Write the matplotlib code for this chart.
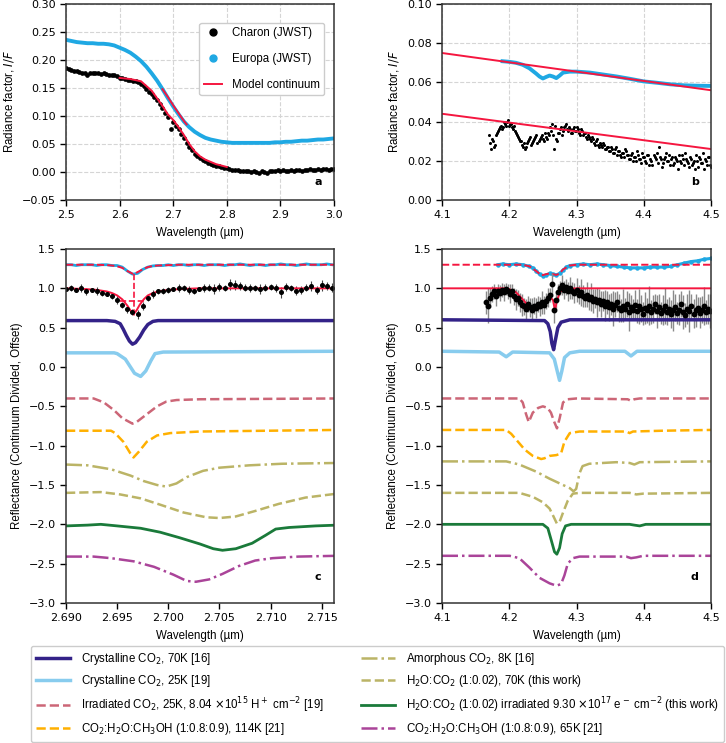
import numpy as np
import matplotlib
matplotlib.use('Agg')
import matplotlib.pyplot as plt
from matplotlib.lines import Line2D

plt.rcParams['font.family'] = 'DejaVu Sans'
plt.rcParams['font.size'] = 8
LAB = 'Liberation Sans'

# colours
c_navy = '#332288'
c_lblue = '#88CCEE'
c_rose = '#CC6677'
c_orange = '#FFB000'
c_olive = '#BBB466'
c_green = '#1A7A3A'
c_purple = '#AA4499'
c_red = '#F5163F'
c_europa = '#1FA8E3'

# ---------------- panel a : 2.5 - 3.0 um ----------------
charon_a = [0.186, 0.184, 0.183, 0.181, 0.180, 0.178, 0.176, 0.177, 0.174, 0.176,
            0.177, 0.176, 0.176, 0.175, 0.176, 0.175, 0.174, 0.174, 0.173, 0.171,
            0.168, 0.167, 0.166, 0.165, 0.164, 0.163, 0.162, 0.160, 0.157, 0.153,
            0.148, 0.143, 0.139, 0.134, 0.128, 0.121, 0.114, 0.106, 0.098, 0.076,
            0.089, 0.083, 0.076, 0.068, 0.060, 0.052, 0.045, 0.039, 0.033, 0.029,
            0.025, 0.022, 0.019, 0.016, 0.014, 0.012, 0.011, 0.010, 0.009, 0.008,
            0.007, 0.006, 0.004, 0.004, 0.003, 0.002, 0.002, 0.001, 0.002, 0.000,
            0.001, 0.000, -0.002, 0.001, 0.000, -0.001, 0.001, 0.002, 0.001, 0.003,
            0.002, 0.003, 0.001, 0.002, 0.003, 0.002, 0.004, 0.003, 0.002, 0.004,
            0.003, 0.005, 0.004, 0.003, 0.005, 0.004, 0.006, 0.005, 0.004, 0.006,
            0.005]
wl_charon_a = np.linspace(2.5, 3.0, len(charon_a))

europa_a = [0.236, 0.234, 0.232, 0.231, 0.230, 0.230, 0.229, 0.229, 0.228, 0.226,
            0.222, 0.218, 0.213, 0.206, 0.198, 0.188, 0.176, 0.163, 0.148, 0.132,
            0.117, 0.103, 0.090, 0.080, 0.072, 0.066, 0.061, 0.058, 0.056, 0.054,
            0.053, 0.052, 0.052, 0.052, 0.052, 0.052, 0.052, 0.052, 0.052, 0.053,
            0.053, 0.054, 0.054, 0.055, 0.056, 0.056, 0.057, 0.058, 0.058, 0.059,
            0.060]
wl_europa_a = np.linspace(2.5, 3.0, len(europa_a))

wl_model_a = [2.60, 2.62, 2.64, 2.66, 2.68, 2.69, 2.70, 2.71, 2.72, 2.73, 2.74, 2.75, 2.76, 2.78, 2.80]
model_a = [0.168, 0.166, 0.162, 0.145, 0.118, 0.103, 0.093, 0.080, 0.066, 0.050, 0.037, 0.028, 0.022, 0.014, 0.009]
wl_model_ae = [2.68, 2.69, 2.70, 2.71, 2.72, 2.725]
model_ae = [0.148, 0.134, 0.119, 0.105, 0.091, 0.085]

# ---------------- panel b : 4.1 - 4.5 um ----------------
charon_b = [0.033, 0.026, 0.030, 0.028, 0.034, 0.036, 0.038, 0.037, 0.039, 0.040,
            0.038, 0.039, 0.036, 0.035, 0.033, 0.031, 0.030, 0.027, 0.026, 0.029,
            0.031, 0.028, 0.030, 0.032, 0.029, 0.031, 0.033, 0.030, 0.032, 0.034,
            0.037, 0.039, 0.026, 0.031, 0.034, 0.036, 0.033, 0.037, 0.039, 0.035,
            0.036, 0.034, 0.037, 0.035, 0.036, 0.033, 0.035, 0.034, 0.032, 0.033,
            0.031, 0.032, 0.029, 0.030, 0.028, 0.029, 0.027, 0.028, 0.026, 0.027,
            0.025, 0.026, 0.024, 0.027, 0.025, 0.023, 0.024, 0.022, 0.025, 0.023,
            0.021, 0.024, 0.022, 0.020, 0.023, 0.021, 0.024, 0.022, 0.019, 0.023,
            0.021, 0.018, 0.022, 0.024, 0.027, 0.021, 0.019, 0.022, 0.020, 0.023,
            0.021, 0.018, 0.022, 0.020, 0.023, 0.019, 0.021, 0.024, 0.020, 0.017,
            0.021, 0.019, 0.016, 0.020, 0.022, 0.019, 0.024, 0.021, 0.018, 0.022,
            0.017]
wl_charon_b = np.linspace(4.17, 4.5, len(charon_b))
charon_b2 = [0.029, 0.031, 0.027, 0.033, 0.035, 0.037, 0.036, 0.040, 0.038, 0.041,
             0.039, 0.037, 0.038, 0.034, 0.032, 0.030, 0.028, 0.029, 0.027, 0.030,
             0.032, 0.029, 0.031, 0.033, 0.030, 0.032, 0.031, 0.034, 0.031, 0.033,
             0.035, 0.033, 0.038, 0.030, 0.034, 0.037, 0.035, 0.038, 0.036, 0.037,
             0.034, 0.036, 0.035, 0.037, 0.034, 0.036, 0.033, 0.034, 0.031, 0.032,
             0.030, 0.031, 0.028, 0.031, 0.027, 0.028, 0.029, 0.026, 0.027, 0.025,
             0.027, 0.024, 0.026, 0.023, 0.025, 0.022, 0.024, 0.026, 0.023, 0.021,
             0.023, 0.020, 0.022, 0.025, 0.021, 0.019, 0.022, 0.020, 0.023, 0.018,
             0.020, 0.023, 0.021, 0.019, 0.022, 0.017, 0.021, 0.024, 0.020, 0.018,
             0.022, 0.019, 0.021, 0.016, 0.020, 0.023, 0.018, 0.021, 0.019, 0.022,
             0.018, 0.020, 0.023, 0.017, 0.021, 0.019, 0.016, 0.020, 0.022, 0.018]
wl_charon_b2 = np.linspace(4.1715, 4.4985, len(charon_b2))

wl_europa_b = [4.19, 4.20, 4.21, 4.22, 4.23, 4.24, 4.245, 4.25, 4.255, 4.26, 4.265, 4.27,
               4.275, 4.28, 4.29, 4.30, 4.32, 4.34, 4.36, 4.38, 4.40, 4.42, 4.44, 4.46, 4.48, 4.50]
europa_b = [0.0708, 0.0705, 0.0700, 0.0690, 0.0672, 0.0645, 0.0630, 0.0620, 0.0628, 0.0635, 0.0630, 0.0622,
            0.0635, 0.0650, 0.0655, 0.0655, 0.0650, 0.0640, 0.0630, 0.0618, 0.0605, 0.0598, 0.0590, 0.0585, 0.0583, 0.0582]

wl_cont_b = [4.1, 4.5]
cont_b_europa = [0.075, 0.056]
cont_b_charon = [0.044, 0.026]

# ---------------- panel c : 2.69 - 2.716 um ----------------
charon_c = [0.99, 1.00, 0.98, 1.00, 0.96, 0.98, 0.97, 0.94, 0.93, 0.90,
            0.85, 0.79, 0.74, 0.70, 0.67, 0.78, 0.88, 0.93, 0.96, 0.97,
            0.98, 0.99, 1.00, 1.00, 0.98, 0.97, 0.99, 1.00, 1.01, 0.99,
            1.02, 1.00, 1.05, 1.04, 1.03, 1.01, 1.00, 1.00, 0.99, 1.01,
            1.02, 1.00, 0.95, 1.02, 1.00, 0.97, 0.98, 1.01, 1.03, 0.98,
            1.04, 1.03, 1.01]
charon_c_err = [0.03, 0.04, 0.03, 0.05, 0.04, 0.03, 0.05, 0.04, 0.03, 0.04,
                0.05, 0.04, 0.05, 0.04, 0.06, 0.05, 0.04, 0.05, 0.03, 0.04,
                0.04, 0.03, 0.05, 0.04, 0.05, 0.04, 0.03, 0.05, 0.04, 0.06,
                0.05, 0.04, 0.07, 0.06, 0.05, 0.04, 0.05, 0.04, 0.06, 0.05,
                0.04, 0.05, 0.07, 0.05, 0.04, 0.06, 0.05, 0.04, 0.06, 0.05,
                0.07, 0.05, 0.06]
europa_c = [1.30, 1.30, 1.29, 1.30, 1.30, 1.30, 1.29, 1.30, 1.30, 1.29,
            1.29, 1.27, 1.22, 1.18, 1.19, 1.24, 1.27, 1.285, 1.29, 1.29,
            1.30, 1.29, 1.30, 1.30, 1.29, 1.30, 1.30, 1.29, 1.30, 1.30,
            1.30, 1.29, 1.30, 1.30, 1.31, 1.30, 1.29, 1.30, 1.30, 1.29,
            1.30, 1.30, 1.31, 1.30, 1.30, 1.29, 1.30, 1.31, 1.30, 1.30,
            1.30, 1.31, 1.30]
wl_obs_c = np.linspace(2.690, 2.716, len(charon_c))

wl_model_c = [2.690, 2.692, 2.693, 2.694, 2.6945, 2.695, 2.6955, 2.696, 2.6963, 2.6966,
              2.6969, 2.6972, 2.6976, 2.698, 2.6985, 2.699, 2.700, 2.701, 2.703, 2.706, 2.7165]
model_c_charon = [1.0, 0.99, 0.98, 0.96, 0.94, 0.91, 0.86, 0.78, 0.72, 0.67,
                  0.72, 0.79, 0.86, 0.91, 0.94, 0.96, 0.98, 0.99, 1.0, 1.0, 1.0]
model_c_europa = [1.30, 1.30, 1.30, 1.295, 1.29, 1.28, 1.26, 1.22, 1.20, 1.18,
                  1.20, 1.22, 1.25, 1.27, 1.285, 1.29, 1.295, 1.30, 1.30, 1.30, 1.30]
band_c_x = [2.6966, 2.6966]
band_c_y = [1.18, 0.62]
fwhm_c_x = [2.6953, 2.6976]
fwhm_c_y = [0.84, 0.84]

c_wl_navy = [2.690, 2.692, 2.694, 2.6948, 2.6953, 2.6956, 2.6959, 2.6962, 2.6965, 2.6968,
             2.6972, 2.6976, 2.698, 2.6985, 2.699, 2.7165]
c_navy_y = [0.59, 0.59, 0.59, 0.58, 0.55, 0.48, 0.40, 0.33, 0.29, 0.31,
            0.38, 0.47, 0.54, 0.58, 0.59, 0.59]
c_wl_lblue = [2.690, 2.694, 2.6947, 2.6950, 2.6958, 2.6963, 2.6967, 2.6970, 2.6973, 2.6978,
              2.6983, 2.6987, 2.6995, 2.7165]
c_lblue_y = [0.18, 0.18, 0.18, 0.17, 0.10, 0.00, -0.08, -0.10, -0.12, -0.05,
             0.08, 0.17, 0.19, 0.20]
c_wl_rose = [2.690, 2.6927, 2.6937, 2.6947, 2.6955, 2.6965, 2.6969, 2.6979, 2.6989, 2.6998,
             2.7008, 2.7031, 2.7165]
c_rose_y = [-0.40, -0.40, -0.45, -0.55, -0.65, -0.72, -0.70, -0.60, -0.50, -0.44,
            -0.42, -0.41, -0.40]
c_wl_orange = [2.690, 2.6944, 2.6948, 2.6956, 2.6963, 2.6966, 2.6971, 2.6979, 2.6989, 2.7002,
               2.7031, 2.7165]
c_orange_y = [-0.81, -0.81, -0.84, -0.95, -1.10, -1.15, -1.08, -0.95, -0.87, -0.84,
              -0.82, -0.80]
c_wl_amorph = [2.690, 2.6921, 2.6944, 2.6963, 2.6976, 2.6989, 2.6998, 2.7008, 2.7018, 2.7034,
               2.7050, 2.7079, 2.7111, 2.7165]
c_amorph_y = [-1.24, -1.25, -1.30, -1.38, -1.45, -1.50, -1.52, -1.48, -1.40, -1.32,
              -1.28, -1.25, -1.23, -1.22]
c_wl_mix = [2.690, 2.6934, 2.6953, 2.6973, 2.6992, 2.7015, 2.7037, 2.7050, 2.7066, 2.7085,
            2.7108, 2.7134, 2.7165]
c_mix_y = [-1.60, -1.59, -1.62, -1.67, -1.75, -1.85, -1.91, -1.92, -1.90, -1.83,
           -1.74, -1.66, -1.61]
c_wl_green = [2.690, 2.6921, 2.6934, 2.6950, 2.6973, 2.6992, 2.7011, 2.7031, 2.7044, 2.7053,
              2.7066, 2.7082, 2.7095, 2.7105, 2.7118, 2.7144, 2.7165]
c_green_y = [-2.02, -2.01, -2.00, -2.02, -2.05, -2.10, -2.17, -2.25, -2.31, -2.33,
             -2.31, -2.24, -2.14, -2.06, -2.04, -2.02, -2.01]
c_wl_purple = [2.690, 2.6927, 2.6944, 2.6966, 2.6986, 2.7005, 2.7018, 2.7027, 2.7040, 2.7053,
               2.7069, 2.7085, 2.7102, 2.7127, 2.7165]
c_purple_y = [-2.41, -2.41, -2.43, -2.47, -2.54, -2.64, -2.72, -2.73, -2.70, -2.63,
              -2.53, -2.46, -2.43, -2.41, -2.40]

# ---------------- panel d : 4.1 - 4.5 um ----------------
charon_d = [0.82, 0.78, 0.88, 0.93, 0.96, 0.90, 0.97, 0.94, 0.98, 0.95,
            0.99, 0.96, 0.93, 0.97, 0.90, 0.86, 0.88, 0.82, 0.79, 0.77,
            0.74, 0.80, 0.76, 0.73, 0.78, 0.75, 0.80, 0.77, 0.82, 0.79,
            0.84, 0.88, 0.92, 1.05, 0.72, 0.85, 0.95, 1.00, 1.04, 0.98,
            1.02, 0.96, 1.00, 0.97, 0.94, 0.98, 0.92, 0.95, 0.90, 0.88,
            0.92, 0.86, 0.89, 0.84, 0.87, 0.82, 0.85, 0.80, 0.84, 0.78,
            0.82, 0.76, 0.80, 0.74, 0.79, 0.83, 0.75, 0.72, 0.78, 0.74,
            0.80, 0.70, 0.76, 0.73, 0.79, 0.71, 0.77, 0.74, 0.68, 0.75,
            0.72, 0.78, 0.70, 0.74, 0.80, 0.71, 0.76, 0.69, 0.73, 0.78,
            0.70, 0.74, 0.67, 0.72, 0.76, 0.69, 0.73, 0.80, 0.70, 0.66,
            0.74, 0.71, 0.77, 0.68, 0.72, 0.75, 0.69, 0.73, 0.78, 0.70,
            0.74, 0.71]
charon_d_err = [0.15, 0.22, 0.12, 0.10, 0.09, 0.12, 0.08, 0.10, 0.09, 0.11,
                0.08, 0.10, 0.12, 0.09, 0.11, 0.13, 0.10, 0.12, 0.14, 0.11,
                0.13, 0.10, 0.12, 0.15, 0.11, 0.13, 0.10, 0.12, 0.14, 0.11,
                0.10, 0.12, 0.09, 0.15, 0.16, 0.12, 0.10, 0.09, 0.13, 0.11,
                0.10, 0.12, 0.14, 0.11, 0.13, 0.15, 0.12, 0.17, 0.14, 0.12,
                0.16, 0.13, 0.18, 0.15, 0.12, 0.19, 0.14, 0.16, 0.13, 0.20,
                0.15, 0.17, 0.14, 0.22, 0.16, 0.13, 0.18, 0.15, 0.21, 0.14,
                0.17, 0.24, 0.16, 0.13, 0.19, 0.15, 0.22, 0.17, 0.14, 0.20,
                0.16, 0.25, 0.15, 0.18, 0.13, 0.21, 0.17, 0.14, 0.19, 0.23,
                0.16, 0.15, 0.18, 0.26, 0.17, 0.14, 0.20, 0.16, 0.22, 0.15,
                0.19, 0.27, 0.16, 0.18, 0.21, 0.14, 0.20, 0.17, 0.24, 0.15,
                0.19, 0.22]
wl_charon_d = np.linspace(4.165, 4.498, len(charon_d))

wl_europa_d = [4.183, 4.19, 4.20, 4.21, 4.22, 4.23, 4.235, 4.24, 4.245, 4.25, 4.255, 4.26, 4.265,
               4.27, 4.275, 4.28, 4.285, 4.29, 4.30, 4.31, 4.32, 4.33, 4.34, 4.35, 4.36, 4.37,
               4.38, 4.39, 4.40, 4.41, 4.42, 4.43, 4.44, 4.45, 4.46, 4.47, 4.48, 4.49, 4.50]
europa_d = [1.30, 1.31, 1.30, 1.31, 1.30, 1.28, 1.26, 1.22, 1.18, 1.16, 1.17, 1.19, 1.18,
            1.17, 1.19, 1.23, 1.27, 1.29, 1.30, 1.31, 1.30, 1.31, 1.30, 1.29, 1.28, 1.27,
            1.26, 1.26, 1.26, 1.27, 1.27, 1.27, 1.28, 1.30, 1.32, 1.34, 1.35, 1.37, 1.38]

wl_model_de = [4.10, 4.22, 4.23, 4.24, 4.248, 4.255, 4.26, 4.265, 4.27, 4.275, 4.28, 4.29, 4.30, 4.50]
model_de = [1.30, 1.30, 1.28, 1.22, 1.165, 1.18, 1.19, 1.18, 1.17, 1.19, 1.24, 1.29, 1.30, 1.30]
wl_model_dc = [4.10, 4.195, 4.20, 4.21, 4.22, 4.23, 4.237, 4.245, 4.255, 4.262, 4.265, 4.268,
               4.271, 4.276, 4.285, 4.30, 4.50]
model_dc = [1.0, 1.0, 0.99, 0.95, 0.86, 0.76, 0.72, 0.75, 0.83, 0.88, 0.85, 0.72,
            0.85, 0.96, 0.99, 1.0, 1.0]

d_wl_navy = [4.10, 4.2525, 4.2574, 4.261, 4.2634, 4.266, 4.2688, 4.2723, 4.2772, 4.29, 4.50]
d_navy_y = [0.60, 0.59, 0.55, 0.45, 0.30, 0.22, 0.35, 0.50, 0.57, 0.60, 0.60]
d_wl_lblue = [4.10, 4.185, 4.1955, 4.205, 4.26, 4.267, 4.2713, 4.2748, 4.2782, 4.2822,
              4.29, 4.3045, 4.372, 4.381, 4.39, 4.50]
d_lblue_y = [0.20, 0.19, 0.13, 0.19, 0.18, 0.10, -0.05, -0.17, -0.05, 0.12,
             0.18, 0.20, 0.20, 0.14, 0.20, 0.20]
d_wl_rose = [4.10, 4.215, 4.22, 4.225, 4.229, 4.235, 4.243, 4.25, 4.257, 4.262, 4.267,
             4.271, 4.275, 4.28, 4.287, 4.30, 4.376, 4.381, 4.386, 4.394, 4.50]
d_rose_y = [-0.40, -0.40, -0.45, -0.60, -0.70, -0.58, -0.52, -0.50, -0.52, -0.58, -0.70,
            -0.78, -0.65, -0.45, -0.41, -0.40, -0.41, -0.43, -0.41, -0.40, -0.40]
d_wl_orange = [4.10, 4.1955, 4.203, 4.213, 4.223, 4.235, 4.2475, 4.2525, 4.26, 4.27, 4.277,
               4.282, 4.29, 4.3045, 4.374, 4.379, 4.384, 4.428, 4.50]
d_orange_y = [-0.80, -0.80, -0.85, -0.95, -1.05, -1.13, -1.17, -1.16, -1.13, -1.12, -1.10,
              -0.95, -0.84, -0.82, -0.82, -0.84, -0.82, -0.81, -0.80]
d_wl_amorph = [4.10, 4.1955, 4.215, 4.24, 4.26, 4.28, 4.29, 4.2955, 4.2995, 4.3045, 4.309,
               4.319, 4.359, 4.379, 4.386, 4.394, 4.50]
d_amorph_y = [-1.20, -1.20, -1.24, -1.33, -1.42, -1.50, -1.54, -1.58, -1.55, -1.35, -1.26,
              -1.23, -1.21, -1.22, -1.24, -1.21, -1.20]
d_wl_mix = [4.10, 4.215, 4.235, 4.25, 4.26, 4.2658, 4.2708, 4.2748, 4.28, 4.287, 4.2946,
            4.3045, 4.379, 4.389, 4.399, 4.50]
d_mix_y = [-1.60, -1.60, -1.65, -1.72, -1.80, -1.90, -1.99, -1.97, -1.85, -1.70, -1.61,
           -1.60, -1.60, -1.62, -1.61, -1.60]
d_wl_green = [4.10, 4.25, 4.2574, 4.2624, 4.2673, 4.2708, 4.2748, 4.2787, 4.2837, 4.292,
              4.379, 4.386, 4.394, 4.403, 4.50]
d_green_y = [-2.00, -2.00, -2.05, -2.20, -2.35, -2.38, -2.30, -2.12, -2.02, -2.00,
             -2.00, -2.01, -2.02, -2.00, -2.00]
d_wl_purple = [4.10, 4.2005, 4.215, 4.23, 4.245, 4.26, 4.27, 4.277, 4.282, 4.287, 4.2946,
               4.3045, 4.374, 4.381, 4.389, 4.399, 4.50]
d_purple_y = [-2.40, -2.40, -2.43, -2.55, -2.68, -2.75, -2.78, -2.76, -2.65, -2.50, -2.43,
              -2.41, -2.41, -2.43, -2.42, -2.40, -2.40]

labels = [r'Crystalline CO$_2$, 70K [16]',
          r'Crystalline CO$_2$, 25K [19]',
          r'Irradiated CO$_2$, 25K, 8.04 $\times$10$^{15}$ H$^+$ cm$^{-2}$ [19]',
          r'CO$_2$:H$_2$O:CH$_3$OH (1:0.8:0.9), 114K [21]',
          r'Amorphous CO$_2$, 8K [16]',
          r'H$_2$O:CO$_2$ (1:0.02), 70K (this work)',
          r'H$_2$O:CO$_2$ (1:0.02) irradiated 9.30 $\times$10$^{17}$ e$^-$ cm$^{-2}$ (this work)',
          r'CO$_2$:H$_2$O:CH$_3$OH (1:0.8:0.9), 65K [21]']
styles = [(c_navy, '-', 2.5), (c_lblue, '-', 2.5), (c_rose, '--', 1.8), (c_orange, '--', 1.8),
          (c_olive, '-.', 1.8), (c_olive, '--', 1.8), (c_green, '-', 2.0), (c_purple, '-.', 1.8)]

W, H = 726, 743
fig = plt.figure(figsize=(W / 100, H / 100), dpi=100)
ax_a = fig.add_axes([66 / W, 1 - 200 / H, 268 / W, 196 / H])
ax_b = fig.add_axes([442 / W, 1 - 200 / H, 269 / W, 196 / H])
ax_c = fig.add_axes([66 / W, 1 - 603 / H, 268 / W, 354 / H])
ax_d = fig.add_axes([442 / W, 1 - 603 / H, 269 / W, 354 / H])

for ax in (ax_a, ax_b, ax_c, ax_d):
    for sp in ax.spines.values():
        sp.set_linewidth(1.1)
        sp.set_color('#333333')
    ax.tick_params(width=1.0, length=4, labelsize=8)
    ax.set_xlabel('Wavelength (µm)', fontfamily=LAB, fontsize=8.3, labelpad=5)

# panel a
ax_a.grid(True, ls='--', color='#d5d5d5', lw=0.8)
ax_a.set_axisbelow(True)
ax_a.plot(wl_europa_a, europa_a, '-', color=c_europa, lw=2.8)
ax_a.plot(wl_charon_a, charon_a, 'o', color='k', ms=3.4, mew=0)
ax_a.plot(wl_model_a, model_a, '-', color=c_red, lw=1.4)
ax_a.plot(wl_model_ae, model_ae, '-', color=c_red, lw=1.4)
ax_a.set_xlim(2.5, 3.0)
ax_a.set_ylim(-0.05, 0.30)
ax_a.set_yticks(np.arange(-0.05, 0.301, 0.05))
ax_a.set_ylabel('Radiance factor, $I/F$', fontfamily=LAB, fontsize=8.3)
h_a = [Line2D([], [], marker='o', color='k', ls='none', ms=5),
       Line2D([], [], marker='o', color=c_europa, ls='none', ms=5),
       Line2D([], [], color=c_red, lw=1.4)]
ax_a.legend(h_a, ['Charon (JWST)', 'Europa (JWST)', 'Model continuum'],
            loc='upper right', bbox_to_anchor=(0.985, 0.935),
            prop={'family': LAB, 'size': 8.3}, labelspacing=1.2, handlelength=1.6,
            framealpha=1, edgecolor='#cccccc')
ax_a.text(0.94, 0.075, 'a', transform=ax_a.transAxes, fontweight='bold', fontsize=8, ha='center')

# panel b
ax_b.grid(True, ls='--', color='#d5d5d5', lw=0.8)
ax_b.set_axisbelow(True)
ax_b.plot(wl_europa_b, europa_b, '-', color=c_europa, lw=2.8)
ax_b.plot(wl_charon_b, charon_b, 'o', color='k', ms=2.2, mew=0)
ax_b.plot(wl_charon_b2, charon_b2, 'o', color='k', ms=2.2, mew=0)
ax_b.plot(wl_cont_b, cont_b_europa, '-', color=c_red, lw=1.4)
ax_b.plot(wl_cont_b, cont_b_charon, '-', color=c_red, lw=1.4)
ax_b.set_xlim(4.1, 4.5)
ax_b.set_ylim(0, 0.10)
ax_b.set_yticks(np.arange(0, 0.101, 0.02))
ax_b.set_ylabel('Radiance factor, $I/F$', fontfamily=LAB, fontsize=8.3)
ax_b.text(0.94, 0.075, 'b', transform=ax_b.transAxes, fontweight='bold', fontsize=8, ha='center')

# panel c
ax_c.plot(wl_obs_c, europa_c, '-', color=c_europa, lw=2.0)
ax_c.plot(wl_model_c, model_c_europa, '--', color=c_red, lw=1.4)
ax_c.errorbar(wl_obs_c, charon_c, yerr=charon_c_err, fmt='o', color='k', ms=2.6,
              ecolor='#444444', elinewidth=0.8, capsize=0)
ax_c.plot(wl_model_c, model_c_charon, '-', color=c_red, lw=1.4)
ax_c.plot(band_c_x, band_c_y, '--', color=c_red, lw=1.2)
ax_c.plot(fwhm_c_x, fwhm_c_y, '--', color=c_red, lw=1.2)
c_series = [(c_wl_navy, c_navy_y), (c_wl_lblue, c_lblue_y), (c_wl_rose, c_rose_y),
            (c_wl_orange, c_orange_y), (c_wl_amorph, c_amorph_y), (c_wl_mix, c_mix_y),
            (c_wl_green, c_green_y), (c_wl_purple, c_purple_y)]
for (xx, yy), (col, ls, lw) in zip(c_series, styles):
    ax_c.plot(xx, yy, ls, color=col, lw=lw)
ax_c.set_xlim(2.690, 2.7162)
ax_c.set_ylim(-3.0, 1.5)
ax_c.set_xticks([2.690, 2.695, 2.700, 2.705, 2.710, 2.715])
ax_c.set_xticklabels(['2.690', '2.695', '2.700', '2.705', '2.710', '2.715'])
ax_c.set_yticks(np.arange(-3.0, 1.51, 0.5))
ax_c.set_ylabel('Reflectance (Continuum Divided, Offset)', fontfamily=LAB, fontsize=8.3)
ax_c.text(0.94, 0.065, 'c', transform=ax_c.transAxes, fontweight='bold', fontsize=8, ha='center')

# panel d
ax_d.plot(wl_europa_d, europa_d, '-', color=c_europa, lw=2.2, marker='o', ms=2.2)
ax_d.plot(wl_model_de, model_de, '--', color=c_red, lw=1.4)
ax_d.errorbar(wl_charon_d, charon_d, yerr=charon_d_err, fmt='o', color='k', ms=3.2,
              ecolor='#8a8a8a', elinewidth=1.0, capsize=0)
ax_d.plot(wl_model_dc, model_dc, '-', color=c_red, lw=1.4)
d_series = [(d_wl_navy, d_navy_y), (d_wl_lblue, d_lblue_y), (d_wl_rose, d_rose_y),
            (d_wl_orange, d_orange_y), (d_wl_amorph, d_amorph_y), (d_wl_mix, d_mix_y),
            (d_wl_green, d_green_y), (d_wl_purple, d_purple_y)]
for (xx, yy), (col, ls, lw) in zip(d_series, styles):
    ax_d.plot(xx, yy, ls, color=col, lw=lw)
ax_d.set_xlim(4.1, 4.5)
ax_d.set_ylim(-3.0, 1.5)
ax_d.set_yticks(np.arange(-3.0, 1.51, 0.5))
ax_d.set_ylabel('Reflectance (Continuum Divided, Offset)', fontfamily=LAB, fontsize=8.3)
ax_d.text(0.94, 0.065, 'd', transform=ax_d.transAxes, fontweight='bold', fontsize=8, ha='center')

# shared legend
handles = [Line2D([], [], color=col, ls=ls, lw=lw) for col, ls, lw in styles]
fig.legend(handles, labels, ncol=2, loc='lower left',
           bbox_to_anchor=(31 / W, 1 / H, 693 / W, 96 / H), mode='expand',
           prop={'family': LAB, 'size': 8.3}, handlelength=3.0, handletextpad=0.95,
           labelspacing=0.55, framealpha=1, edgecolor='#cccccc', borderaxespad=0)

fig.savefig('out.png', dpi=100)
